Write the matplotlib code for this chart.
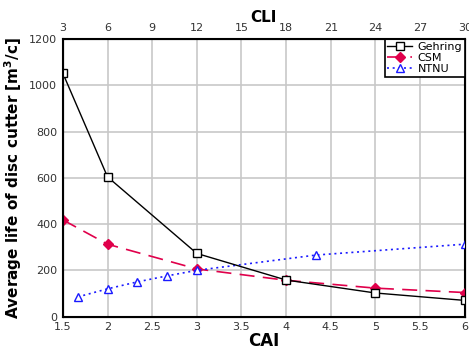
import matplotlib.pyplot as plt

# data
gehring_cai = [1.5, 2, 3, 4, 5, 6]
gehring_life = [1052, 604, 273, 158, 102, 70]

csm_cai = [1.5, 2, 3, 4, 5, 6]
csm_life = [418, 313, 206, 157, 123, 104]

ntnu_cai = [1.667, 2, 2.333, 2.667, 3, 4.333, 6]
ntnu_life = [85, 120, 150, 176, 200, 266, 313]

cai_ticks = [1.5, 2, 2.5, 3, 3.5, 4, 4.5, 5, 5.5, 6]
cli_ticks = [3, 6, 9, 12, 15, 18, 21, 24, 27, 30]

fig = plt.figure(figsize=(4.69, 3.51), dpi=100)
ax = fig.add_axes([0.134, 0.098, 0.857, 0.791])

ax.plot(gehring_cai, gehring_life, color='black', lw=1, marker='s', ms=5.5,
        mfc='white', mec='black', mew=1, label='Gehring', zorder=4)
ax.plot(csm_cai, csm_life, color='#e0004b', lw=1.2, ls=(0, (9, 5)), marker='D',
        ms=5.5, mfc='#e0004b', mec='#e0004b', label='CSM', zorder=3)
ax.plot(ntnu_cai, ntnu_life, color='#1a1aff', lw=1.2, ls=(0, (1.2, 2.2)), marker='^',
        ms=5.5, mfc='white', mec='#1a1aff', mew=1, label='NTNU', zorder=3)

ax.set_xlim(1.5, 6)
ax.set_ylim(0, 1200)
ax.set_xticks(cai_ticks)
ax.set_xticklabels(['1.5', '2', '2.5', '3', '3.5', '4', '4.5', '5', '5.5', '6'])
ax.set_yticks([0, 200, 400, 600, 800, 1000, 1200])
ax.grid(True, color='#c8c8c8', lw=1.2)
ax.set_axisbelow(True)
ax.tick_params(labelsize=8, length=0, pad=4, colors='#333333')
for s in ax.spines.values():
    s.set_linewidth(1.5)
    s.set_color('black')

ax.set_xlabel('CAI', fontsize=12, fontweight='bold', labelpad=0)
ax.set_ylabel('Average life of disc cutter [m$^\\mathbf{3}$/c]', fontsize=11,
              fontweight='bold', labelpad=4)

top = ax.twiny()
top.set_xlim(3, 30)
top.set_xticks(cli_ticks)
top.tick_params(labelsize=8, length=0, pad=4, colors='#333333')
top.set_xlabel('CLI', fontsize=11, fontweight='bold', labelpad=1)

leg = ax.legend(loc='upper right', fontsize=8, frameon=True, fancybox=False,
                borderaxespad=0, handlelength=2.2, handletextpad=0.5,
                borderpad=0.25, labelspacing=0.1, framealpha=1)
leg.get_frame().set_edgecolor('black')
leg.get_frame().set_linewidth(1.2)

fig.savefig('out.png', dpi=100)
